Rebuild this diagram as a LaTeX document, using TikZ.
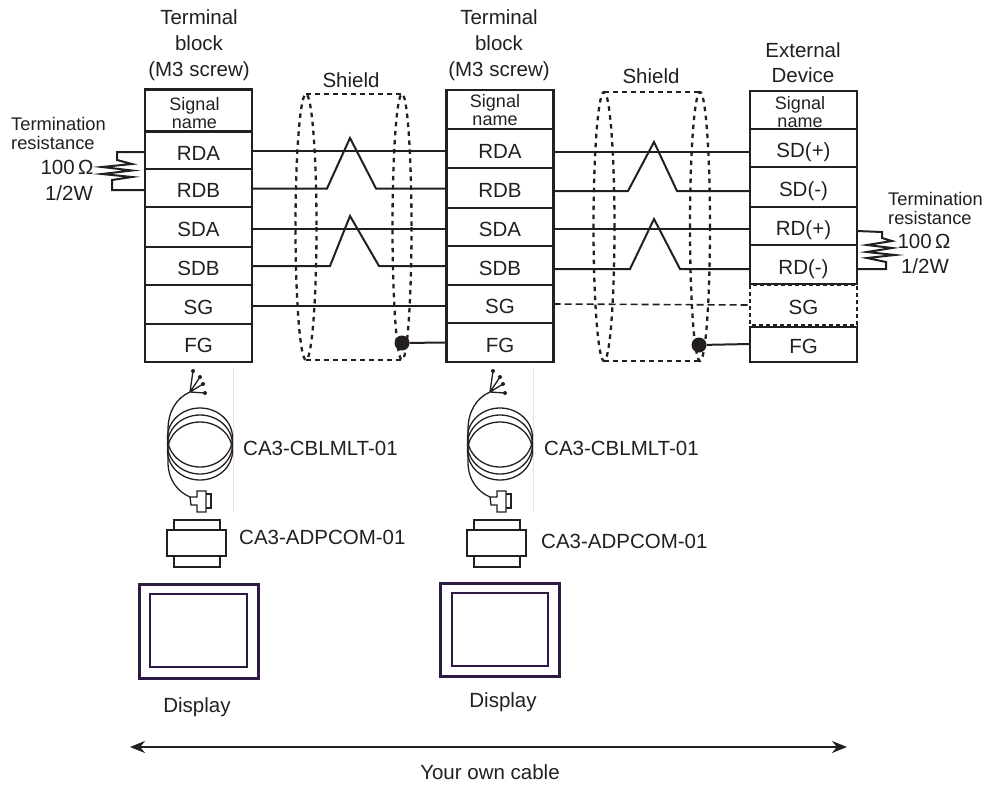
\documentclass[tikz,border=0pt]{standalone}
\usepackage{fontspec}
\setmainfont{Liberation Sans}
\usetikzlibrary{arrows.meta}
\definecolor{dispcol}{HTML}{2D1A45}
\definecolor{inkcol}{HTML}{231F20}
\definecolor{pinkline}{HTML}{F5DADA}
\tikzset{
  x=1pt,y=-1pt,
  rowbox/.style={draw=inkcol,line width=2.5pt,inner sep=0pt,outer sep=0pt,minimum width=107pt,font=\fontsize{20.5}{20.5}\selectfont,text=inkcol,text height=19pt,text depth=0pt},
  dashbox/.style={rowbox,draw=none},
  headbox/.style={rowbox,text height=0pt,text depth=0pt},
  sigtext/.style={anchor=base,inner sep=0pt,align=center,text=inkcol,font=\fontsize{18}{18}\selectfont},
  lab/.style={anchor=base,inner sep=0pt,text=inkcol,font=\fontsize{20.5}{20.5}\selectfont},
  smalllab/.style={anchor=base west,inner sep=0pt,text=inkcol,font=\fontsize{18.3}{18}\selectfont},
  wire/.style={draw=inkcol,line width=2pt},
  wiredash/.style={draw=inkcol,line width=1.6pt,dash pattern=on 7pt off 4pt},
  shieldline/.style={draw=inkcol,line width=2.3pt,dash pattern=on 4.5pt off 4.5pt},
  thinline/.style={draw=inkcol,line width=1.3pt},
  adapter/.style={draw=inkcol,line width=2.6pt,fill=white},
  dispbox/.style={draw=dispcol,line width=3pt},
  dotnode/.style={circle,fill=inkcol,inner sep=0pt,minimum size=15pt},
}
\newcommand{\cablecoil}[1]{%
  \begin{scope}[shift={(#1,0)}]
    \draw[pinkline,line width=0.9pt] (233,367) -- (233,512);
    \draw[thinline] (200,437.5) ellipse [x radius=32.5,y radius=29.5];
    \draw[thinline] (200,444.5) ellipse [x radius=32.5,y radius=29.5];
    \draw[thinline] (200,451) ellipse [x radius=32.5,y radius=29];
    \draw[thinline] (190,392) .. controls (176,398) and (168,412) .. (168,430) -- (168,462) .. controls (168,480) and (178,492) .. (190,497);
    \draw[thinline] (190,392) -- (193,371) (190,392) -- (200,377) (190,392) -- (203,384) (190,392) -- (205,393);
    \foreach \p in {(193,371),(200,377),(203,384),(205,393)} \fill[inkcol] \p circle (2);
    \draw[thinline] (190,497) -- (197,497) -- (197,491) -- (206,491) -- (206,512) -- (197,512) -- (197,505) -- (191,505) -- cycle;
    \draw[thinline] (206,494) -- (211,494) -- (211,508) -- (206,508);
    \draw[adapter] (174,520) rectangle (220,567);
    \draw[adapter] (167,530) rectangle (226,556);
  \end{scope}}
\begin{document}
\begin{tikzpicture}
\useasboundingbox (0,0) rectangle (990,784);
% Titles
\node[lab] (t1a) at (199,25) {Terminal};
\node[lab] (t1b) at (199,51) {block};
\node[lab] (t1c) at (199,76) {(M3 screw)};
\node[lab] (t2a) at (499,25) {Terminal};
\node[lab] (t2b) at (499,51) {block};
\node[lab] (t2c) at (499,76) {(M3 screw)};
\node[lab] (t3a) at (803,57) {External};
\node[lab] (t3b) at (803,82) {Device};
\node[lab] (sh1) at (351,87) {Shield};
\node[lab] (sh2) at (651,83) {Shield};
% Left block
\node[headbox,minimum height=42pt] (lH) at (198.5,110.5) {};
\node[sigtext] (lH1) at (194.5,128) {Signal\\name};
\node[rowbox,minimum height=37pt] (lRDA) at (198.5,150.5) {RDA};
\node[rowbox,minimum height=38pt] (lRDB) at (198.5,188) {RDB};
\node[rowbox,minimum height=40pt] (lSDA) at (198.5,227) {SDA};
\node[rowbox,minimum height=38pt] (lSDB) at (198.5,266) {SDB};
\node[rowbox,minimum height=39pt] (lSG) at (198.5,304.5) {SG};
\node[rowbox,minimum height=38pt] (lFG) at (198.5,343) {FG};
% Middle block
\node[headbox,minimum height=39pt] (mH) at (500,109.5) {};
\node[sigtext] (mH1) at (495,125) {Signal\\name};
\node[rowbox,minimum height=39pt] (mRDA) at (500,148.5) {RDA};
\node[rowbox,minimum height=40pt] (mRDB) at (500,188) {RDB};
\node[rowbox,minimum height=38pt] (mSDA) at (500,227) {SDA};
\node[rowbox,minimum height=39pt] (mSDB) at (500,265.5) {SDB};
\node[rowbox,minimum height=38pt] (mSG) at (500,304) {SG};
\node[rowbox,minimum height=39pt] (mFG) at (500,342.5) {FG};
% Right block
\node[headbox,minimum height=38pt] (rH) at (803.5,110) {};
\node[sigtext] (rH1) at (800,127) {Signal\\name};
\node[rowbox,minimum height=38pt] (rSDP) at (803.5,148) {SD(+)};
\node[rowbox,minimum height=40pt] (rSDM) at (803.5,187) {SD(-)};
\node[rowbox,minimum height=38pt] (rRDP) at (803.5,226) {RD(+)};
\node[rowbox,minimum height=39pt] (rRDM) at (803.5,264.5) {RD(-)};
\node[dashbox,minimum height=40pt] (rSG) at (803.5,305) {SG};
\draw[shieldline,line width=2.4pt,dash pattern=on 4pt off 3pt] (rSG.north west) rectangle (rSG.south east);
\node[rowbox,minimum height=35pt,text height=17.5pt] (rFG) at (803.5,344.5) {FG};
% Shield loops
\coordinate (s1lt) at (306,94); \coordinate (s1rt) at (402,94);
\coordinate (s1lb) at (306,360); \coordinate (s1rb) at (402,360);
\coordinate (s2lt) at (604,92); \coordinate (s2rt) at (700,92);
\coordinate (s2lb) at (604,361); \coordinate (s2rb) at (700,361);
\draw[shieldline] (306,227) ellipse [x radius=10.5,y radius=133];
\draw[shieldline] (402,227) ellipse [x radius=9.5,y radius=133];
\draw[shieldline] (s1lt) -- (s1rt);
\draw[shieldline] (s1lb) -- (s1rb);
\draw[shieldline] (604,226.5) ellipse [x radius=10.5,y radius=134.5];
\draw[shieldline] (700,226.5) ellipse [x radius=10,y radius=134.5];
\draw[shieldline] (s2lt) -- (s2rt);
\draw[shieldline] (s2lb) -- (s2rb);
% Wires left span
\draw[wire] ([yshift=-0.5pt]lRDA.east) -- ([yshift=-2.5pt]mRDA.west);
\draw[wire] ([yshift=-0.5pt]lRDB.east) -- (327,188.5) -- (350,138) -- (376,188.5) -- ([yshift=-0.5pt]mRDB.west);
\draw[wire] ([yshift=-2pt]lSDA.east) -- ([yshift=-2pt]mSDA.west);
\draw[wire] (lSDB.east) -- (330,266) -- (350,216) -- (379,266) -- ([yshift=-0.5pt]mSDB.west);
\draw[wire] ([yshift=-1.5pt]lSG.east) -- ([yshift=-2pt]mSG.west);
\node[dotnode] (d1) at (402,343) {};
\draw[wire] (d1) -- (mFG.west);
% Wires right span
\draw[wire] ([yshift=-3.5pt]mRDA.east) -- ([yshift=-4pt]rSDP.west);
\draw[wire] ([yshift=-3pt]mRDB.east) -- (628,191) -- (654,142) -- (677,191) -- ([yshift=-4pt]rSDM.west);
\draw[wire] ([yshift=-2pt]mSDA.east) -- ([yshift=-3pt]rRDP.west);
\draw[wire] ([yshift=-3.5pt]mSDB.east) -- (630,269) -- (654,219) -- (680,269) -- ([yshift=-4.5pt]rRDM.west);
\draw[wiredash] (mSG.east) -- (rSG.west);
\node[dotnode] (d2) at (699,345) {};
\draw[wire] (d2) -- ([yshift=0.5pt]rFG.west);
% Termination left
\node[smalllab] (tl1) at (11,130) {Termination};
\node[smalllab] (tl2) at (11,149) {resistance};
\node[lab] (tl3) at (67,174) {100\,Ω};
\node[lab] (tl4) at (69,200) {1/2W};
\coordinate (rl1) at (117,152);
\coordinate (rl2) at (112,190);
\draw[wire] ([yshift=-1.5pt]lRDA.west) -- (rl1) -- (117,160) -- (132,164) -- (102,167) -- (132,170.5) -- (102,174) -- (132,177) -- (112,180) -- (rl2) -- ([yshift=-2pt]lRDB.west);
% Termination right
\node[smalllab] (tr1) at (888,205) {Termination};
\node[smalllab] (tr2) at (888,224) {resistance};
\node[lab] (tr3) at (924,248) {100\,Ω};
\node[lab] (tr4) at (925,273) {1/2W};
\coordinate (rr1) at (882,232);
\coordinate (rr2) at (886,269);
\draw[wire] ([yshift=-5pt]rRDP.east) -- (rr1) -- (882,238) -- (892,241) -- (867,245) -- (892,248) -- (867,252) -- (895,255) -- (867,258) -- (886,262) -- (rr2) -- ([yshift=-4.5pt]rRDM.east);
% Cables
\cablecoil{0}
\cablecoil{300}
\node[lab,anchor=base west] (c1) at (243,455) {CA3-CBLMLT-01};
\node[lab,anchor=base west] (c2) at (544,455) {CA3-CBLMLT-01};
\node[lab,anchor=base west] (a1) at (239,544) {CA3-ADPCOM-01};
\node[lab,anchor=base west] (a2) at (541,548) {CA3-ADPCOM-01};
% Displays
\draw[dispbox] (139,584) rectangle (258,678);
\draw[dispbox,line width=2.6pt] (150,594) rectangle (247,667);
\draw[dispbox] (440,583) rectangle (559,676);
\draw[dispbox,line width=2.6pt] (452,593) rectangle (548,666);
\node[lab] (dp1) at (197,712) {Display};
\node[lab] (dp2) at (503,707) {Display};
% Bottom arrow
\coordinate (al) at (130,747);
\coordinate (ar) at (847,747);
\draw[draw=inkcol,line width=2pt,{Stealth[length=15pt,width=12pt]}-{Stealth[length=15pt,width=12pt]}] (al) -- (ar);
\node[lab] (own) at (490,779) {Your own cable};
\end{tikzpicture}
\end{document}
